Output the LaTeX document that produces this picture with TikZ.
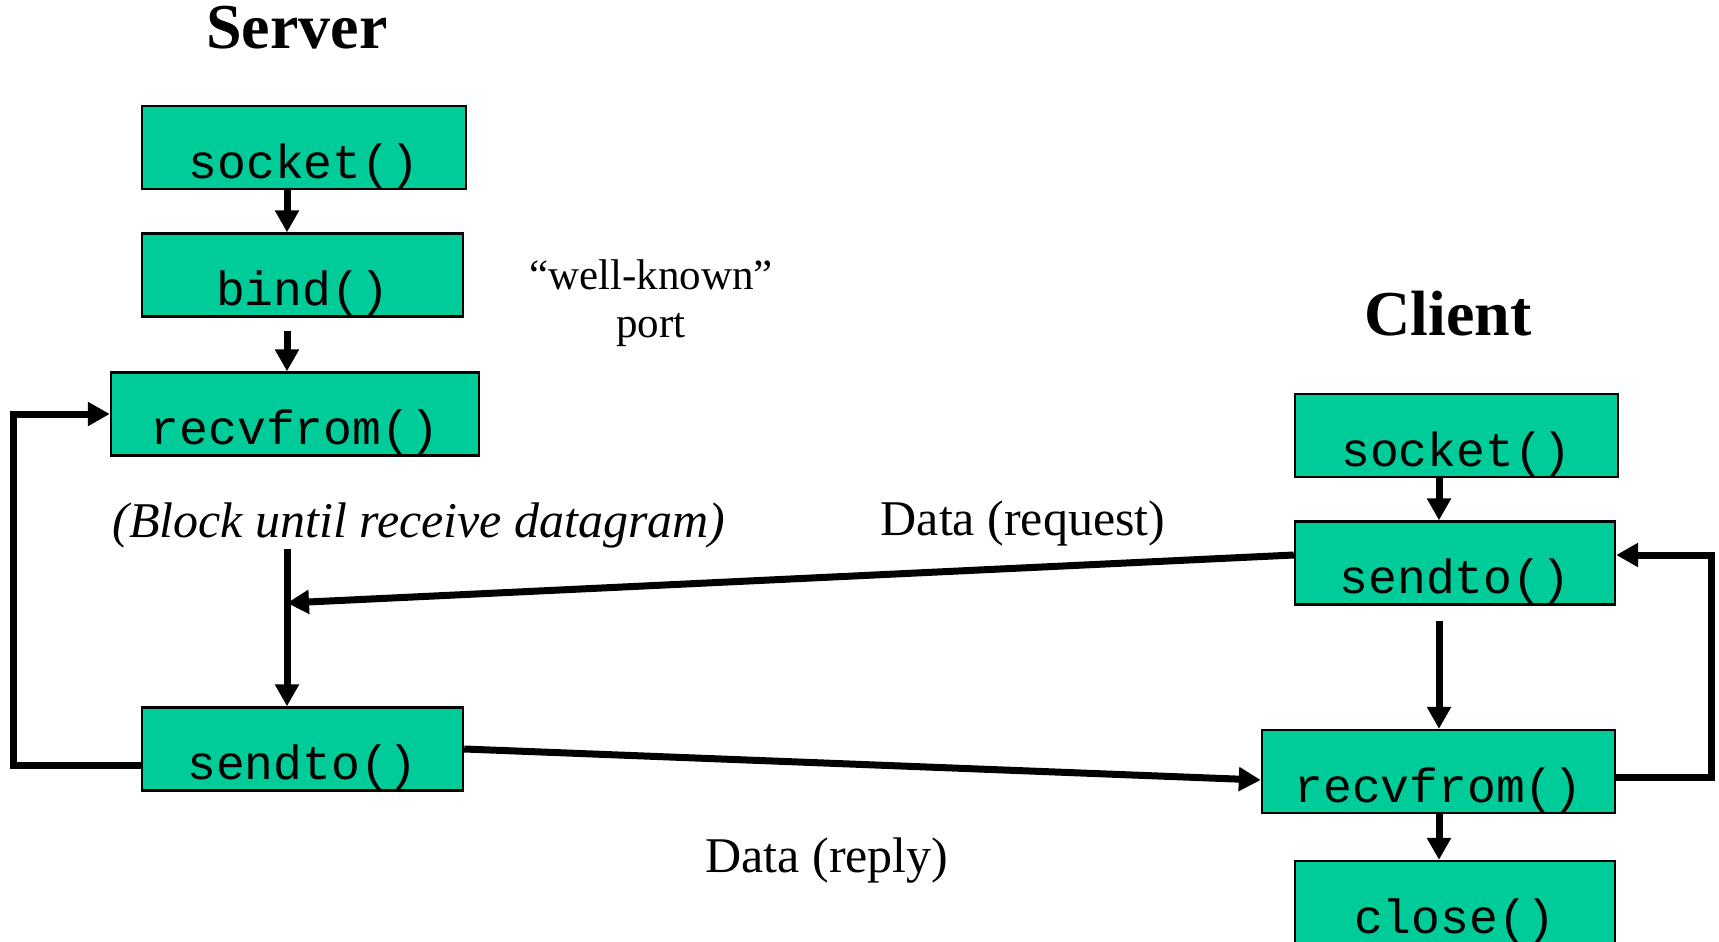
\documentclass[tikz,border=0pt]{standalone}
\usepackage{fontspec}
\setmainfont{Liberation Serif}
\setmonofont{Liberation Mono}
\usetikzlibrary{arrows.meta,calc}
\definecolor{boxgreen}{RGB}{0,204,153}

\begin{document}
\begin{tikzpicture}[x=0.5pt,y=-0.5pt,
  callbox/.style={draw,line width=1.2pt,fill=boxgreen,inner sep=0pt,text height=36pt,text depth=5.5pt,font=\fontsize{24}{28}\selectfont\ttfamily},
  flow/.style={line width=3.5pt,-{Triangle[length=11pt,width=11.5pt]}},
  side/.style={font=\fontsize{32}{38}\selectfont\bfseries,anchor=base},
  note/.style={font=\fontsize{25}{30}\selectfont,anchor=base},
  small note/.style={font=\fontsize{21.5}{26}\selectfont,anchor=base}]
\useasboundingbox (0,0) rectangle (1719,942);
%server calls
\node[callbox,minimum width=162pt] (socketS) at (304,147.5) {socket()};
\node[callbox,minimum width=160.5pt] (bindS) at (302.5,275) {bind()};
\node[callbox,minimum width=184pt] (recvS) at (295,414) {recvfrom()};
\node[callbox,minimum width=160.5pt] (sendS) at (302.5,749) {sendto()};
%client calls
\node[callbox,minimum width=161.5pt] (socketC) at (1456.5,435.5) {socket()};
\node[callbox,minimum width=160pt] (sendC) at (1455,563) {sendto()};
\node[callbox,minimum width=176.5pt] (recvC) at (1438.5,771.5) {recvfrom()};
\node[callbox,minimum width=160pt] (closeC) at (1455,902.5) {close()};
%labels
\node[side] (server) at (297,48) {Server};
\node[side] (client) at (1448,335) {Client};
\node[small note] (wk) at (651,289) {“well-known”};
\node[small note] (port) at (651,337) {port};
\node[note] (block) at (419,537) {\itshape (Block until receive datagram)};
\node[note] (req) at (1023,535) {Data (request)};
\node[note] (rep) at (827,872) {Data (reply)};
%
\coordinate (colS) at (287,0);
\coordinate (colC) at (1439,0);
\coordinate (blockEnd) at (287,549);
\coordinate (join) at (287,603);
\coordinate (loopS) at (13,414);
\coordinate (loopC) at (1711,555);
%arrows
\draw[flow] (socketS.south -| colS) -- (bindS.north -| colS);
\draw[flow] ($(bindS.south -| colS)+(0,13)$) -- (recvS.north -| colS);
\draw[flow] (blockEnd) -- (sendS.north -| colS);
\draw[flow] ([yshift=-8pt]sendS.west) -| (loopS) -- (recvS.west);
\draw[flow] ([yshift=4pt]sendC.west) -- (join);
\draw[flow] (sendS.east) -- ([yshift=-4.25pt]recvC.west);
\draw[flow] (socketC.south -| colC) -- (sendC.north -| colC);
\draw[flow] ($(sendC.south -| colC)+(0,15)$) -- (recvC.north -| colC);
\draw[flow] (recvC.south -| colC) -- (closeC.north -| colC);
\draw[flow] ([yshift=-2.75pt]recvC.east) -| (loopC) -- ([yshift=4pt]sendC.east);
\end{tikzpicture}
\end{document}
